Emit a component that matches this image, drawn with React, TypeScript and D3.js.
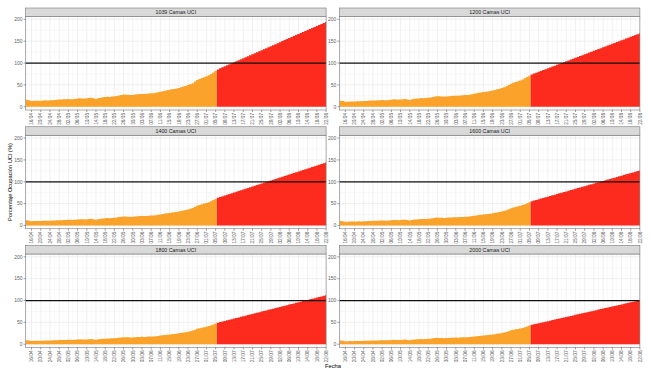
import React from "react";
import * as d3 from "d3";

// ---------- data ----------
const bedCapacities = [1039, 1200, 1400, 1600, 1800, 2000];
const firstDay = "2020-04-14";
// observed ICU patients, 14/04 .. 05/07
const observedPatients = [
  166, 154, 137, 140, 143, 141, 145, 148, 151, 149,
  154, 156, 162, 168, 171, 169, 175, 179, 182, 180,
  177, 185, 193, 203, 197, 195, 199, 206, 213, 199,
  185, 203, 216, 223, 229, 237, 233, 241, 247, 255,
  268, 281, 291, 287, 283, 278, 281, 289, 296, 301,
  304, 301, 307, 314, 320, 322, 330, 343, 355, 369,
  382, 390, 403, 414, 421, 431, 447, 462, 478, 494,
  514, 535, 561, 597, 634, 660, 681, 701, 722, 748,
  779, 816, 852,
];
// projected ICU patients, 06/07 .. 22/08
const projectedPatients = [
  888, 912, 936, 960, 984, 1008, 1032, 1056, 1080, 1104,
  1128, 1152, 1176, 1200, 1224, 1248, 1272, 1296, 1320, 1344,
  1368, 1392, 1416, 1440, 1464, 1488, 1512, 1536, 1560, 1584,
  1608, 1632, 1656, 1680, 1704, 1728, 1752, 1776, 1800, 1824,
  1848, 1872, 1896, 1920, 1944, 1968, 1992, 2016,
];
const dateTickLabels = [
  "16/04", "20/04", "24/04", "28/04", "02/05", "06/05", "10/05", "14/05",
  "18/05", "22/05", "26/05", "30/05", "03/06", "07/06", "11/06", "15/06",
  "19/06", "23/06", "27/06", "01/07", "05/07", "09/07", "13/07", "17/07",
  "21/07", "25/07", "29/07", "02/08", "06/08", "10/08", "14/08", "18/08",
  "22/08",
];
const yTicks = [0, 50, 100, 150, 200];
const yMinorTicks = [25, 75, 125, 175];
const threshold = 100;
const yTitle = "Porcentaje Ocupación UCI (%)";
const xTitle = "Fecha";

// ---------- layout ----------
const W = 652;
const H = 377;
const colX = [25.6, 339.4];
const panelW = 300.5;
const rowTop = [8, 126.75, 245.5];
const stripH = 8.5;
const panelH = 93.5;
const ORANGE = "#FAA22A";
const RED = "#FC2B1E";
const FONT = "Liberation Sans, Arial, sans-serif";

const parseDay = d3.utcParse("%Y-%m-%d");
const parseTick = d3.utcParse("%d/%m/%Y");
const start = parseDay(firstDay) as Date;
const obsDates = observedPatients.map((_, i) => d3.utcDay.offset(start, i));
const projDates = projectedPatients.map((_, i) =>
  d3.utcDay.offset(start, observedPatients.length + i)
);
const lastDate = projDates[projDates.length - 1];
const tickDates = dateTickLabels.map((l) => parseTick(l + "/2020") as Date);
const minorDates = [d3.utcDay.offset(tickDates[0], -2)].concat(
  tickDates.slice(0, -1).map((d) => d3.utcDay.offset(d, 2))
);

function Panel({ beds, idx }: { beds: number; idx: number }) {
  const col = idx % 2;
  const row = Math.floor(idx / 2);
  const left = colX[col];
  const right = left + panelW;
  const sTop = rowTop[row];
  const top = sTop + stripH;
  const bottom = top + panelH;

  const x = d3
    .scaleUtc()
    .domain([d3.utcHour.offset(start, -14), lastDate])
    .range([left, right]);
  const y = d3.scaleLinear().domain([-7.5, 206.5]).range([bottom, top]);

  const mk = (dates: Date[], vals: number[]) => {
    const pts = dates.map((d, i) => ({
      d: d3.utcHour.offset(d, -12),
      v: (vals[i] / beds) * 100,
    }));
    pts.push({
      d: d3.utcHour.offset(dates[dates.length - 1], 12),
      v: (vals[vals.length - 1] / beds) * 100,
    });
    return d3
      .area<{ d: Date; v: number }>()
      .curve(d3.curveStepAfter)
      .x((p) => x(p.d))
      .y0(y(0))
      .y1((p) => y(p.v))(pts) as string;
  };

  const clipId = `clip${idx}`;
  const tickColor = "#5e5e5e";
  return (
    <g>
      <defs>
        <clipPath id={clipId}>
          <rect x={left} y={top} width={panelW} height={panelH} />
        </clipPath>
      </defs>
      <rect x={left} y={top} width={panelW} height={panelH} fill="#fff" />
      <g clipPath={`url(#${clipId})`}>
        {yMinorTicks.map((t) => (
          <line key={"ym" + t} x1={left} x2={right} y1={y(t)} y2={y(t)} stroke="#f0f0f0" strokeWidth={0.4} />
        ))}
        {minorDates.map((d, i) => (
          <line key={"xm" + i} x1={x(d)} x2={x(d)} y1={top} y2={bottom} stroke="#f0f0f0" strokeWidth={0.4} />
        ))}
        {yTicks.map((t) => (
          <line key={"y" + t} x1={left} x2={right} y1={y(t)} y2={y(t)} stroke="#e6e6e6" strokeWidth={0.6} />
        ))}
        {tickDates.map((d, i) => (
          <line key={"x" + i} x1={x(d)} x2={x(d)} y1={top} y2={bottom} stroke="#e6e6e6" strokeWidth={0.6} />
        ))}
        <path d={mk(obsDates, observedPatients)} fill={ORANGE} />
        <path d={mk(projDates, projectedPatients)} fill={RED} />
        <line x1={left} x2={right} y1={y(threshold)} y2={y(threshold)} stroke="#111" strokeWidth={1.2} />
      </g>
      <rect x={left} y={top} width={panelW} height={panelH} fill="none" stroke="#777" strokeWidth={0.6} />
      <rect x={left} y={sTop} width={panelW} height={stripH} fill="#D9D9D9" stroke="#777" strokeWidth={0.6} />
      <text
        x={(left + right) / 2}
        y={sTop + stripH / 2}
        dy="0.36em"
        textAnchor="middle"
        fontSize={5.3}
        fill="#1a1a1a"
        fontFamily={FONT}
      >
        {`${beds} Camas UCI`}
      </text>
      {yTicks.map((t) => (
        <g key={"yt" + t}>
          <line x1={left - 2} x2={left} y1={y(t)} y2={y(t)} stroke="#444" strokeWidth={0.5} />
          <text x={left - 3} y={y(t)} dy="0.36em" textAnchor="end" fontSize={5} fill={tickColor} fontFamily={FONT}>
            {t}
          </text>
        </g>
      ))}
      {tickDates.map((d, i) => (
        <g key={"xt" + i}>
          <line x1={x(d)} x2={x(d)} y1={bottom} y2={bottom + 2} stroke="#444" strokeWidth={0.5} />
          <text
            transform={`translate(${x(d)},${bottom + 2.8}) rotate(-90)`}
            dy="0.36em"
            textAnchor="end"
            fontSize={4.8}
            fill={tickColor}
            fontFamily={FONT}
          >
            {dateTickLabels[i]}
          </text>
        </g>
      ))}
    </g>
  );
}

export default function App() {
  return (
    <svg
      width={W}
      height={H}
      viewBox={`0 0 ${W} ${H}`}
      style={{ position: "absolute", left: 0, top: 0, display: "block", background: "#fff" }}
    >
      <rect x={0} y={0} width={W} height={H} fill="#fff" />
      {bedCapacities.map((b, i) => (
        <Panel key={b} beds={b} idx={i} />
      ))}
      <text
        transform="translate(10.3,182) rotate(-90)"
        dy="0.36em"
        textAnchor="middle"
        fontSize={5.7}
        fill="#000"
        fontFamily={FONT}
      >
        {yTitle}
      </text>
      <text x={333} y={368} textAnchor="middle" fontSize={5.8} fill="#000" fontFamily={FONT}>
        {xTitle}
      </text>
    </svg>
  );
}
